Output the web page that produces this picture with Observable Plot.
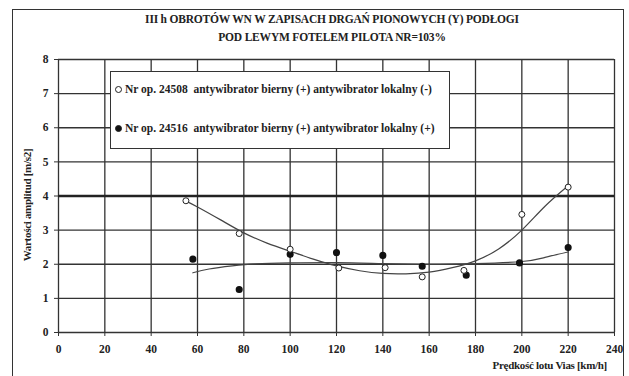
<!DOCTYPE html>
<html>
<head>
<meta charset="utf-8">
<script src="https://cdn.jsdelivr.net/npm/d3@7"></script>
<script src="https://cdn.jsdelivr.net/npm/@observablehq/plot@0.6"></script>
<style>
  html, body { margin: 0; padding: 0; background: #fff; }
  #wrap { position: relative; width: 629px; height: 376px; overflow: hidden; font-family: "Liberation Serif", "DejaVu Serif", serif; color: #222; }
  #frame { position: absolute; left: 12px; top: 9px; width: 612px; height: 400px; border: 1.5px solid #333; box-sizing: border-box; }
  #chart { position: absolute; left: 0; top: 0; }
  .title { position: absolute; left: 0; width: 664px; text-align: center; font-size: 11.5px; font-weight: bold; letter-spacing: -0.2px; }
  #legend { position: absolute; left: 110px; top: 71px; width: 340px; height: 78px; border: 1.5px solid #333; background: #fff; box-sizing: border-box; font-size: 11.5px; font-weight: bold; letter-spacing: 0px; }
  .row { position: absolute; left: 4px; display: flex; align-items: center; white-space: pre; }
  .mk { display: inline-block; width: 5px; height: 5px; border-radius: 50%; border: 1px solid #222; margin-right: 3px; }
  #ylab { position: absolute; left: 27px; top: 205px; transform: translate(-50%, -50%) rotate(-90deg); font-size: 11px; font-weight: bold; white-space: nowrap; letter-spacing: -0.3px; }
  #xlab { position: absolute; right: 22px; top: 359px; font-size: 11px; font-weight: bold; white-space: nowrap; letter-spacing: -0.3px; }
</style>
</head>
<body>
<div id="wrap">
  <div id="frame"></div>
  <div id="chart"></div>
  <div class="title" style="top:13px">III h OBROTÓW WN W ZAPISACH DRGAŃ PIONOWYCH (Y) PODŁOGI</div>
  <div class="title" style="top:31px">POD LEWYM FOTELEM PILOTA  NR=103%</div>
  <div id="legend"></div>
  <div id="ylab">Wartości amplitud [m/s2]</div>
  <div id="xlab">Prędkość lotu Vias [km/h]</div>
</div>
<script>
// Tick values
const xTicks = [0, 20, 40, 60, 80, 100, 120, 140, 160, 180, 200, 220, 240];
const yTicks = [0, 1, 2, 3, 4, 5, 6, 7, 8];

// Series labels
const seriesNames = [
  "Nr op. 24508  antywibrator bierny (+) antywibrator lokalny (-)",
  "Nr op. 24516  antywibrator bierny (+) antywibrator lokalny (+)"
];

// Series 1 (open circles): speed, amplitude
const s1Speed = [55, 78, 100, 121, 141, 157, 175, 200, 220];
const s1Amp   = [3.86, 2.90, 2.44, 1.89, 1.90, 1.63, 1.82, 3.46, 4.26];

// Series 2 (filled circles)
const s2Speed = [58, 78, 100, 120, 140, 157, 176, 199, 220];
const s2Amp   = [2.15, 1.26, 2.29, 2.34, 2.26, 1.94, 1.68, 2.04, 2.49];

// Trend line 1
const t1Speed = [55, 60, 70, 80, 90, 100, 110, 120, 130, 140, 150, 160, 170, 180, 190, 200, 210, 220];
const t1Amp   = [3.85, 3.68, 3.30, 2.92, 2.62, 2.38, 2.15, 1.95, 1.81, 1.73, 1.72, 1.77, 1.90, 2.10, 2.45, 3.00, 3.70, 4.30];

// Trend line 2
const t2Speed = [58, 65, 75, 85, 100, 120, 140, 160, 180, 200, 210, 220];
const t2Amp   = [1.75, 1.86, 1.95, 2.01, 2.04, 2.05, 2.02, 2.00, 2.02, 2.08, 2.20, 2.36];

const pts1 = s1Speed.map((x, i) => ({x, y: s1Amp[i]}));
const pts2 = s2Speed.map((x, i) => ({x, y: s2Amp[i]}));
const tr1 = t1Speed.map((x, i) => ({x, y: t1Amp[i]}));
const tr2 = t2Speed.map((x, i) => ({x, y: t2Amp[i]}));

const plot = Plot.plot({
  width: 629,
  height: 376,
  marginLeft: 58,
  marginRight: 15,
  marginTop: 59,
  marginBottom: 44,
  style: { fontFamily: "Liberation Serif, serif", fontSize: "11.5px", fontWeight: "bold", background: "transparent", color: "#222" },
  x: { domain: [0, 240] },
  y: { domain: [0, 8] },
  marks: [
    Plot.ruleX(xTicks, { stroke: "#333", strokeWidth: 1.3 }),
    Plot.ruleY(yTicks.filter(d => d !== 4), { stroke: "#333", strokeWidth: 1.3 }),
    Plot.ruleY([4], { stroke: "#222", strokeWidth: 2.4 }),
    Plot.axisX(xTicks, { tickSize: 4, tickPadding: 8, label: null, stroke: "#333" }),
    Plot.axisY(yTicks, { tickSize: 4, tickPadding: 6, label: null, stroke: "#333" }),
    Plot.line(tr1, { x: "x", y: "y", curve: "natural", stroke: "#444", strokeWidth: 1.2 }),
    Plot.line(tr2, { x: "x", y: "y", curve: "natural", stroke: "#444", strokeWidth: 1.2 }),
    Plot.dot(pts2, { x: "x", y: "y", r: 2.8, fill: "#111", stroke: "#111" }),
    Plot.dot(pts1, { x: "x", y: "y", r: 3, fill: "#fff", stroke: "#222", strokeWidth: 1 })
  ]
});
document.getElementById("chart").appendChild(plot);

const legend = document.getElementById("legend");
seriesNames.forEach((name, i) => {
  const row = document.createElement("div");
  row.className = "row";
  row.style.top = (i === 0 ? 11 : 50) + "px";
  const mk = document.createElement("span");
  mk.className = "mk";
  mk.style.background = i === 0 ? "#fff" : "#111";
  row.appendChild(mk);
  row.appendChild(document.createTextNode(name));
  legend.appendChild(row);
});
</script>
</body>
</html>
